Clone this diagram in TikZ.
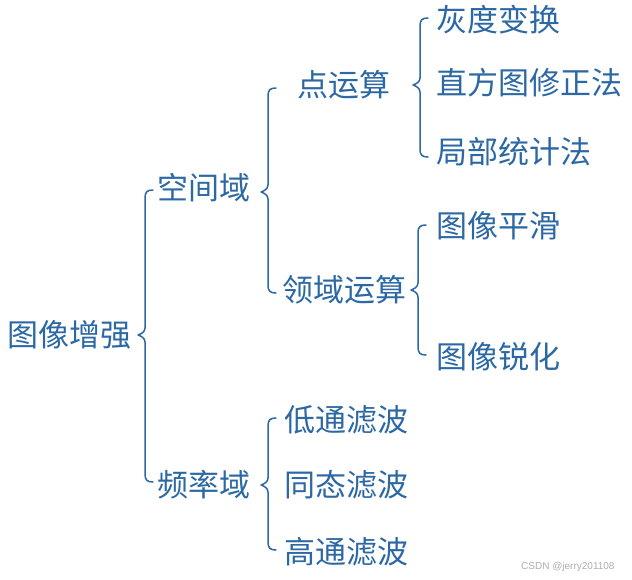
\documentclass[tikz,border=0pt]{standalone}
\usepackage{fontspec}
\newfontfamily\cjk{Noto Sans CJK SC}
\newfontfamily\wmfont{Liberation Sans}
\definecolor{tb}{RGB}{44,104,164}
\definecolor{wm}{RGB}{175,175,175}
% #1 = x of vertical stroke, #2 = top y, #3 = tip y, #4 = bottom y
\newcommand\brc[4]{%
  \draw[br] (#1+8,#2) .. controls (#1+2,#2) and (#1,#2+2) .. (#1,#2+8)
    -- (#1,#3-7) .. controls (#1,#3-3) and (#1-4,#3-1) .. (#1-7,#3)
    .. controls (#1-4,#3+1) and (#1,#3+3) .. (#1,#3+7)
    -- (#1,#4-8) .. controls (#1,#4-2) and (#1+2,#4) .. (#1+8,#4);}
\begin{document}
\begin{tikzpicture}[x=1pt,y=-1pt,
  lbl/.style={font=\cjk\fontsize{31}{31}\selectfont, text=tb, anchor=west, inner sep=0pt},
  br/.style={draw=tb, line width=1.5pt, line cap=round, line join=round}]
\useasboundingbox (0,0) rectangle (632,579);
\fill[white] (0,0) rectangle (632,579);

\node[lbl] (root) at (7,335) {图像增强};
\node[lbl] (kj) at (157,188) {空间域};
\node[lbl] (pl) at (157,485) {频率域};
\node[lbl] (dys) at (297,85) {点运算};
\node[lbl] (lys) at (282,290) {领域运算};
\node[lbl] (hd) at (436,20) {灰度变换};
\node[lbl] (zf) at (436,83) {直方图修正法};
\node[lbl] (jb) at (436,152) {局部统计法};
\node[lbl] (ph) at (436,226) {图像平滑};
\node[lbl] (rh) at (436,357) {图像锐化};
\node[lbl] (dt) at (284,420) {低通滤波};
\node[lbl] (tt) at (284,485) {同态滤波};
\node[lbl] (gt) at (284,552) {高通滤波};

\brc{145}{190}{335}{482}
\brc{268}{88}{192}{293}
\brc{420}{18}{85}{157}
\brc{418}{225}{290}{355}
\brc{268}{418}{485}{550}

\node[font=\wmfont\fontsize{10}{10}\selectfont, text=wm, anchor=west, inner sep=0pt] (wmk) at (521,567) {CSDN @jerry201108};
\end{tikzpicture}
\end{document}
